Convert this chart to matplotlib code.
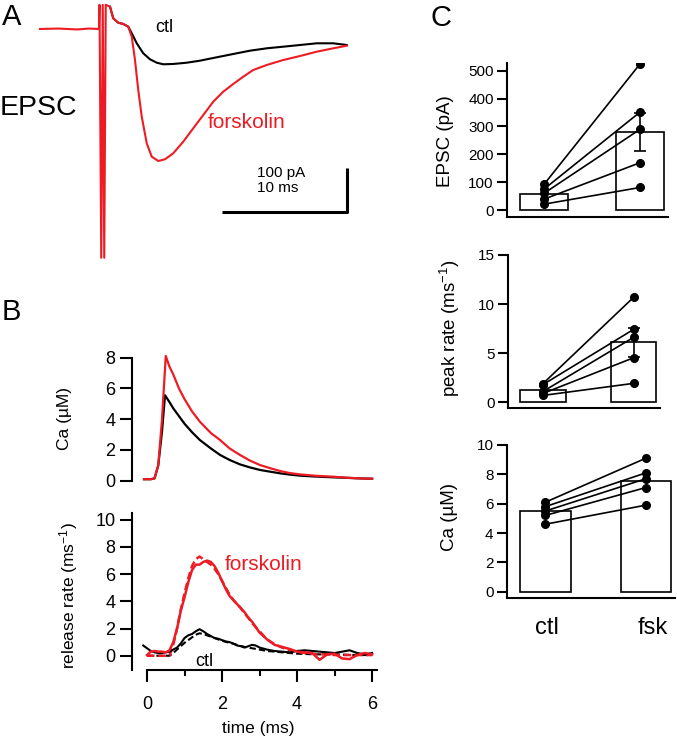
import matplotlib.pyplot as plt

plt.rcParams['font.family'] = ['Liberation Sans', 'DejaVu Sans']
plt.rcParams['mathtext.fontset'] = 'custom'
plt.rcParams['mathtext.rm'] = 'Liberation Sans'
plt.rcParams['mathtext.it'] = 'Liberation Sans:italic'

W, H = 677, 741
RED = '#ed1c24'

# ---- panel A: EPSC traces (ms, pA) ----
base_t = [-4.96, -3.5, -2.0, -1.0, -0.25]
base_i = [0, 1, -1, 1, 0]
stim_t = [-0.2, -0.06, 0.06, 0.18, 0.3]
stim_i = [55, -520, 55, -520, 55]
tail_t = [0.64, 0.90, 1.30, 1.70, 2.10]
tail_i = [50.7, 24.3, 14.3, 11.4, 5.2]

ctl_t = [2.38, 2.78, 3.30, 3.84, 4.38, 4.90, 5.70, 6.78, 7.84, 9.18, 10.5,
         11.84, 13.18, 14.5, 15.84, 17.18, 18.5, 19.58]
ctl_i = [-9.8, -32.5, -55.2, -68.9, -76.6, -80.2, -79.5, -76.6, -72, -64.3,
         -56.8, -49.3, -43.9, -40.2, -36.4, -32.5, -32.5, -36.4]
fsk_t = [2.38, 2.64, 2.90, 3.18, 3.58, 3.98, 4.50, 5.04, 5.70, 6.50, 7.30,
         8.10, 8.90, 9.70, 10.5, 11.3, 12.1, 13.18, 14.5, 15.84, 17.18, 18.5, 19.58]
fsk_i = [-17.5, -70.5, -138.6, -199.3, -259.8, -290.2, -300, -296.1, -282.5,
         -256.1, -225.7, -195.5, -165.2, -142.5, -125, -108.4, -93.2, -81.8,
         -70.5, -61.4, -51.6, -43.9, -38]

# ---- panel B: Ca transients (ms, uM) ----
ca_ctl_t = [-0.08, 0.1, 0.2, 0.3, 0.4, 0.48, 0.6, 0.7, 0.85, 1.0, 1.2, 1.41, 1.7,
            1.95, 2.2, 2.48, 2.75, 3.01, 3.3, 3.55, 3.8, 4.08, 4.5, 4.97, 5.3, 5.68, 6.0]
ca_ctl = [0.1, 0.1, 0.15, 1.0, 3.2, 5.55, 5.1, 4.7, 4.2, 3.7, 3.15, 2.64, 2.1,
          1.67, 1.35, 1.06, 0.86, 0.7, 0.58, 0.48, 0.4, 0.33, 0.27, 0.22, 0.19, 0.15, 0.13]
ca_fsk_t = [-0.08, 0.1, 0.2, 0.3, 0.4, 0.5, 0.6, 0.7, 0.85, 1.0, 1.2, 1.41, 1.7,
            1.95, 2.2, 2.48, 2.75, 3.01, 3.3, 3.55, 3.8, 4.08, 4.5, 4.97, 5.3, 5.68, 6.0]
ca_fsk = [0.1, 0.1, 0.15, 1.0, 4.0, 8.1, 7.4, 6.9, 6.0, 5.3, 4.5, 3.83, 3.1,
          2.64, 2.1, 1.67, 1.3, 1.02, 0.8, 0.63, 0.5, 0.41, 0.32, 0.26, 0.2, 0.15, 0.13]

# ---- panel B: release rate (ms, ms^-1) ----
rr_t = [0.0, 0.1, 0.2, 0.3, 0.4, 0.5, 0.6, 0.7, 0.8, 0.9, 1.0, 1.1, 1.2, 1.3, 1.4,
        1.5, 1.6, 1.7, 1.8, 1.9, 2.0, 2.1, 2.2, 2.3, 2.4, 2.5, 2.6, 2.7, 2.8, 2.9,
        3.0, 3.2, 3.4, 3.6, 3.8, 4.0, 4.2, 4.4, 4.6, 4.8, 5.0, 5.2, 5.4, 5.6, 5.8, 6.0]
rr_fsk = [0.05, 0.3, 0.35, 0.3, 0.3, 0.25, 0.4, 1.0, 2.0, 3.3, 4.3, 5.4, 6.3, 6.7,
          6.7, 6.9, 7.0, 6.9, 6.6, 6.1, 5.5, 4.9, 4.4, 4.1, 3.8, 3.5, 3.2, 2.8, 2.5,
          2.1, 1.7, 1.2, 0.8, 0.65, 0.5, 0.3, 0.25, 0.2, -0.3, 0.1, 0.15, -0.2,
          -0.25, 0.05, 0.2, 0.1]
rr_fsk_fit = [0, 0, 0, 0, 0, 0, 0, 0.8, 2.0, 3.4, 4.6, 5.7, 6.6, 7.1, 7.3, 7.1,
              6.9, 6.7, 6.4, 6.0, 5.5, 5.0, 4.5, 4.1, 3.8, 3.5, 3.1, 2.8, 2.4, 2.1,
              1.8, 1.2, 0.85, 0.6, 0.4, 0.3, 0.2, 0.15, 0.1, 0.1, 0.05, 0.05, 0.05,
              0.05, 0.05, 0.05]
rr_ctl = [0.55, 0.35, 0.25, 0.2, 0.2, 0.25, 0.3, 0.45, 0.6, 0.9, 1.3, 1.5, 1.6,
          1.8, 1.95, 1.8, 1.6, 1.45, 1.3, 1.25, 1.15, 1.05, 1.0, 0.9, 0.75, 0.7,
          0.6, 0.7, 0.8, 0.75, 0.6, 0.45, 0.35, 0.3, 0.25, 0.35, 0.4, 0.35, 0.3,
          0.25, 0.2, 0.3, 0.4, 0.2, 0.1, 0.2]
rr_ctl_fit = [0, 0, 0, 0, 0, 0, 0, 0.2, 0.45, 0.7, 0.95, 1.15, 1.35, 1.55, 1.65,
              1.6, 1.5, 1.4, 1.3, 1.2, 1.1, 1.02, 0.95, 0.88, 0.8, 0.72, 0.65, 0.6,
              0.55, 0.5, 0.45, 0.35, 0.3, 0.25, 0.2, 0.15, 0.13, 0.11, 0.1, 0.1,
              0.1, 0.08, 0.06, 0.05, 0.05, 0.05]

# ---- panel C: summary ----
groups = ['ctl', 'fsk']
epsc_bar = [56, 279]
epsc_err = 68
epsc_ctl = [92, 75, 60, 39, 21]
epsc_fsk = [525, 352, 290, 170, 81]
peak_bar = [1.28, 6.1]
peak_err = 1.45
peak_ctl = [1.9, 1.8, 1.1, 0.9, 0.7]
peak_fsk = [10.7, 7.43, 6.62, 4.54, 1.93]
ca_bar = [5.5, 7.57]
ca_pts_ctl = [6.1, 5.8, 5.5, 5.2, 4.6]
ca_pts_fsk = [9.1, 8.1, 7.7, 7.1, 5.9]

fig = plt.figure(figsize=(W / 100, H / 100), dpi=100)


def px_axes(x0, y0, x1, y1):
    return fig.add_axes([x0 / W, 1 - y1 / H, (x1 - x0) / W, (y1 - y0) / H])


def ftext(x, y, s, **kw):
    fig.text(x / W, 1 - y / H, s, **kw)


# panel A
axA = px_axes(30, 0, 360, 265)
axA.set_xlim(-5.76, 20.64)
axA.set_ylim(-536.4, 65.9)
axA.axis('off')
axA.plot(tail_t + ctl_t, tail_i + ctl_i, color='black', lw=1.5)
axA.plot(base_t + stim_t + tail_t + fsk_t, base_i + stim_i + tail_i + fsk_i,
         color=RED, lw=1.5)
# scale bar: 10 ms, 100 pA
axA.plot([9.6, 19.6, 19.6], [-416, -416, -316], color='black', lw=2.2,
         solid_capstyle='butt')
axA.text(12.4, -327, '100 pA', fontsize=11, va='center')
axA.text(12.4, -361, '10 ms', fontsize=11, va='center')

ftext(2, 17, 'A', fontsize=21, va='center')
ftext(0, 108, 'EPSC', fontsize=20.5, va='center')
ftext(155, 28, 'ctl', fontsize=13, va='center')
ftext(208, 122, 'forskolin', fontsize=15, va='center', color=RED)

# panel B, Ca
axCa = px_axes(132, 355.2, 377, 481.5)
axCa.set_xlim(-0.4, 6.13)
axCa.set_ylim(-0.05, 8.15)
axCa.plot(ca_ctl_t, ca_ctl, color='black', lw=1.6)
axCa.plot(ca_fsk_t, ca_fsk, color=RED, lw=1.6)
for s in ['top', 'right', 'bottom']:
    axCa.spines[s].set_visible(False)
axCa.spines['left'].set_bounds(0, 8)
axCa.spines['left'].set_linewidth(1.5)
axCa.set_xticks([])
axCa.set_yticks([0, 2, 4, 6, 8])
axCa.tick_params(axis='y', length=9, width=1.5, pad=3, labelsize=13)

# panel B, release rate
axR = px_axes(132, 513, 377, 670)
axR.set_xlim(-0.4, 6.13)
axR.set_ylim(-1.05, 10.5)
axR.plot(rr_t, rr_ctl_fit, color='black', lw=1.5, dashes=(3, 1.5))
axR.plot(rr_t, rr_fsk_fit, color=RED, lw=1.8, dashes=(3, 1.5))
axR.plot([-0.1] + rr_t, [0.75] + rr_ctl, color='black', lw=1.5)
axR.plot(rr_t, rr_fsk, color=RED, lw=1.8)
for s in ['top', 'right']:
    axR.spines[s].set_visible(False)
axR.spines['bottom'].set_bounds(0, 6.13)
axR.spines['left'].set_linewidth(1.5)
axR.spines['bottom'].set_linewidth(1.5)
axR.set_yticks([0, 2, 4, 6, 8, 10])
axR.set_xticks([0, 2, 4, 6])
axR.set_xticks([1, 3, 5], minor=True)
axR.tick_params(axis='y', length=9, width=1.5, pad=3, labelsize=13)
axR.tick_params(axis='x', which='major', length=8.5, width=1.5, pad=10, labelsize=13)
axR.tick_params(axis='x', which='minor', length=4.5, width=1.5)

ftext(2, 312, 'B', fontsize=21, va='center')
ftext(65, 418, 'Ca (\u00b5M)', fontsize=12.5, rotation=90, ha='center', va='center')
ftext(69, 596, 'release rate (ms$^{-1}$)', fontsize=12.5, rotation=90,
      ha='center', va='center')
ftext(258, 728, 'time (ms)', fontsize=12.5, ha='center', va='center')
ftext(225, 565, 'forskolin', fontsize=15, va='center', color=RED)
ftext(195, 662, 'ctl', fontsize=13, va='center')


# panel C
def summary(ax, bars, ctl, fsk, err, ylim, yticks):
    ax.set_xlim(-0.385, 1.29)
    ax.set_ylim(*ylim)
    ax.bar([0, 1], bars, width=0.5, color='white', edgecolor='black', lw=1.2)
    if err:
        ax.errorbar([1], [bars[1]], yerr=[err], color='black', lw=1.2,
                    capsize=4.5, capthick=1.2, fmt='none')
    for a, b in zip(ctl, fsk):
        ax.plot([0, 1], [a, b], color='black', lw=1.2, marker='o', ms=5.5)
    for s in ['top', 'right']:
        ax.spines[s].set_visible(False)
    ax.spines['left'].set_linewidth(1.5)
    ax.spines['bottom'].set_linewidth(1.5)
    ax.set_xticks([])
    ax.set_yticks(yticks)
    ax.tick_params(axis='y', length=7.5, width=1.5, pad=2, labelsize=11)


axE = px_axes(507, 63, 668, 216.7)
summary(axE, epsc_bar, epsc_ctl, epsc_fsk, epsc_err, (-24, 528),
        [0, 100, 200, 300, 400, 500])
axP = px_axes(508, 255, 660, 408.3)
summary(axP, peak_bar, peak_ctl, peak_fsk, peak_err, (-0.61, 15), [0, 5, 10, 15])
axC = px_axes(506.7, 445, 675, 598.3)
summary(axC, ca_bar, ca_pts_ctl, ca_pts_fsk, None, (-0.45, 10), [0, 2, 4, 6, 8, 10])

ftext(430, 18, 'C', fontsize=21, va='center')
ftext(445, 141, 'EPSC (pA)', fontsize=13.5, rotation=90, ha='center', va='center')
ftext(450, 328, 'peak rate (ms$^{-1}$)', fontsize=13.5, rotation=90,
      ha='center', va='center')
ftext(450, 517, 'Ca (\u00b5M)', fontsize=13.5, rotation=90, ha='center', va='center')
ftext(547, 628, groups[0], fontsize=17, ha='center', va='center')
ftext(653, 628, groups[1], fontsize=17, ha='center', va='center')

fig.savefig('out.png', dpi=100)
